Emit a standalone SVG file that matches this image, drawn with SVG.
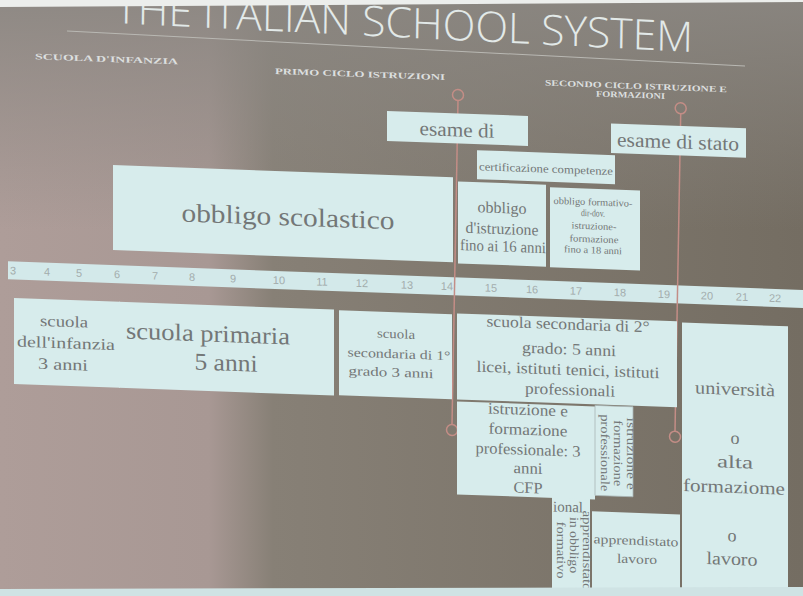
<svg xmlns="http://www.w3.org/2000/svg" width="803" height="596" viewBox="0 0 803 596">
<defs>
<linearGradient id="bg" x1="0" y1="0" x2="803" y2="0" gradientUnits="userSpaceOnUse">
<stop offset="0" stop-color="#ae9d99"/>
<stop offset="0.26" stop-color="#a89894"/>
<stop offset="0.34" stop-color="#878076"/>
<stop offset="1" stop-color="#746d62"/>
</linearGradient>
<linearGradient id="topfade" x1="0" y1="0" x2="0" y2="1">
<stop offset="0" stop-color="#8b8782" stop-opacity="0.9"/>
<stop offset="1" stop-color="#8b8782" stop-opacity="0"/>
</linearGradient>
<clipPath id="clipIefp"><rect x="457" y="385" width="138" height="93"/></clipPath>
<clipPath id="clipCol"><rect x="552" y="470" width="38" height="100"/></clipPath>
<style>
.bx{fill:#d7ecec}
.t{font-family:"Liberation Serif","DejaVu Serif",serif;fill:#737777;text-anchor:middle}
.num{font-family:"Liberation Sans",sans-serif;font-size:11px;fill:#a3adad;text-anchor:middle}
.conn{stroke:#c38d86;stroke-width:1.5;fill:none}
.lab{font-family:"Liberation Serif",serif;font-weight:bold;font-size:8.5px;fill:#dcdfdf}
.title{font-family:"Open Sans","Liberation Sans",sans-serif;font-weight:300;font-size:42px;fill:#e2e9e8}
</style>
</defs>
<rect width="803" height="596" fill="url(#bg)"/>
<rect width="803" height="230" fill="url(#topfade)"/>
<g transform="matrix(1 0.036 0 1 0 0)">
  <g id="header">
    <text class="title" x="115" y="23" textLength="578" lengthAdjust="spacingAndGlyphs" transform="rotate(0.8 404 23)">THE ITALIAN SCHOOL SYSTEM</text>
    <line x1="67" y1="28.6" x2="745" y2="39.2" stroke="#b9b8b3" stroke-width="1"/>
    <text class="lab" x="35" y="58" textLength="143" lengthAdjust="spacingAndGlyphs">SCUOLA D'INFANZIA</text>
    <text class="lab" x="275" y="64" textLength="170" lengthAdjust="spacingAndGlyphs">PRIMO CICLO ISTRUZIONI</text>
    <text class="lab" x="545" y="66" textLength="182" lengthAdjust="spacingAndGlyphs">SECONDO CICLO ISTRUZIONE E</text>
    <text class="lab" x="596" y="75" textLength="69" lengthAdjust="spacingAndGlyphs">FORMAZIONI</text>
  </g>
  <g id="timeline">
    <rect x="8" y="261" width="800" height="18" fill="#d3e9ea"/>
    <text class="num" x="13" y="274">3</text>
    <text class="num" x="47" y="274">4</text>
    <text class="num" x="79" y="274">5</text>
    <text class="num" x="117" y="274">6</text>
    <text class="num" x="155" y="274">7</text>
    <text class="num" x="192" y="274">8</text>
    <text class="num" x="233" y="274">9</text>
    <text class="num" x="279" y="274">10</text>
    <text class="num" x="322" y="274">11</text>
    <text class="num" x="362" y="274">12</text>
    <text class="num" x="407" y="274">13</text>
    <text class="num" x="447" y="274">14</text>
    <text class="num" x="491" y="274">15</text>
    <text class="num" x="532" y="274">16</text>
    <text class="num" x="576" y="274">17</text>
    <text class="num" x="620" y="274">18</text>
    <text class="num" x="664" y="274">19</text>
    <text class="num" x="707" y="274">20</text>
    <text class="num" x="742" y="274">21</text>
    <text class="num" x="775" y="274">22</text>
  </g>
  <g id="connectors">
    <circle class="conn" cx="458" cy="78.5" r="5.5"/>
    <line class="conn" x1="458" y1="84" x2="452" y2="408"/>
    <circle class="conn" cx="452" cy="413.7" r="5.5"/>
    <circle class="conn" cx="680.7" cy="83.8" r="5.5"/>
    <line class="conn" x1="680.7" y1="89.3" x2="675" y2="407"/>
    <circle class="conn" cx="675" cy="412.4" r="5.5"/>
  </g>
  <g id="n-esame-di">
    <rect class="bx" x="387" y="97" width="141" height="30"/>
    <text class="t" x="457" y="120" font-size="20" textLength="75" lengthAdjust="spacingAndGlyphs">esame di</text>
  </g>
  <g id="n-esame-stato">
    <rect class="bx" x="611" y="101.5" width="135" height="29.5"/>
    <text class="t" x="678" y="124" font-size="20" textLength="122" lengthAdjust="spacingAndGlyphs">esame di stato</text>
  </g>
  <g id="n-certificazione">
    <rect class="bx" x="477" y="133" width="138" height="29"/>
    <text class="t" x="546" y="153" font-size="11.5" textLength="134" lengthAdjust="spacingAndGlyphs">certificazione competenze</text>
  </g>
  <g id="n-obbligo-scolastico">
    <rect class="bx" x="113" y="161" width="340" height="85"/>
    <text class="t" x="288" y="215" font-size="26" textLength="213" lengthAdjust="spacingAndGlyphs">obbligo scolastico</text>
  </g>
  <g id="n-obbligo-istruzione">
    <rect class="bx" x="458" y="165" width="88" height="82"/>
    <text class="t" x="502" y="195" font-size="16" textLength="49" lengthAdjust="spacingAndGlyphs">obbligo</text>
    <text class="t" x="502" y="216" font-size="16" textLength="73" lengthAdjust="spacingAndGlyphs">d'istruzione</text>
    <text class="t" x="503" y="233.5" font-size="16" textLength="86" lengthAdjust="spacingAndGlyphs">fino ai 16 anni</text>
  </g>
  <g id="n-obbligo-formativo">
    <rect class="bx" x="550" y="167.5" width="90" height="80"/>
    <text class="t" x="593" y="184" font-size="10" textLength="79" lengthAdjust="spacingAndGlyphs">obbligo formativo-</text>
    <text class="t" x="593" y="195" font-size="10" textLength="24" lengthAdjust="spacingAndGlyphs">dir-dov.</text>
    <text class="t" x="594" y="208" font-size="10" textLength="45" lengthAdjust="spacingAndGlyphs">istruzione-</text>
    <text class="t" x="594" y="221" font-size="10" textLength="49" lengthAdjust="spacingAndGlyphs">formazione</text>
    <text class="t" x="593" y="232" font-size="10" textLength="58" lengthAdjust="spacingAndGlyphs">fino a 18 anni</text>
  </g>
  <g id="n-scuola-infanzia">
    <rect class="bx" x="14" y="297.5" width="106" height="86"/>
    <text class="t" x="64" y="324.5" font-size="16" textLength="48" lengthAdjust="spacingAndGlyphs">scuola</text>
    <text class="t" x="66" y="346" font-size="16" textLength="98" lengthAdjust="spacingAndGlyphs">dell'infanzia</text>
    <text class="t" x="63" y="367.5" font-size="16" textLength="50" lengthAdjust="spacingAndGlyphs">3 anni</text>
  </g>
  <g id="n-scuola-primaria">
    <rect class="bx" x="119" y="297.5" width="215" height="86"/>
    <text class="t" x="208" y="334" font-size="24" textLength="164" lengthAdjust="spacingAndGlyphs">scuola primaria</text>
    <text class="t" x="226" y="362.5" font-size="24" textLength="63" lengthAdjust="spacingAndGlyphs">5 anni</text>
  </g>
  <g id="n-secondaria-1">
    <rect class="bx" x="339" y="298" width="113" height="85"/>
    <text class="t" x="396" y="324" font-size="13" textLength="38" lengthAdjust="spacingAndGlyphs">scuola</text>
    <text class="t" x="399" y="344" font-size="13" textLength="103" lengthAdjust="spacingAndGlyphs">secondaria di 1°</text>
    <text class="t" x="391" y="362.5" font-size="13" textLength="85" lengthAdjust="spacingAndGlyphs">grado 3 anni</text>
  </g>
  <g id="n-secondaria-2">
    <rect class="bx" x="457" y="297" width="220" height="86"/>
    <text class="t" x="568" y="309" font-size="16" textLength="163" lengthAdjust="spacingAndGlyphs">scuola secondaria di 2°</text>
    <text class="t" x="569" y="334" font-size="16" textLength="94" lengthAdjust="spacingAndGlyphs">grado: 5 anni</text>
    <text class="t" x="568" y="354.5" font-size="16" textLength="183" lengthAdjust="spacingAndGlyphs">licei, istituti tenici, istituti</text>
    <text class="t" x="570" y="374.5" font-size="16" textLength="90" lengthAdjust="spacingAndGlyphs">professionali</text>
  </g>
  <g id="n-apprendistato-obbligo">
    <rect class="bx" x="552" y="470" width="38" height="100"/>
    <g clip-path="url(#clipCol)">
      <text class="t" x="553" y="491.5" font-size="15" style="text-anchor:start">ional</text>
    </g>
    <text class="t" transform="translate(583 529.5) rotate(90)" font-size="12.5" textLength="80" lengthAdjust="spacingAndGlyphs">apprendistato</text>
    <text class="t" transform="translate(570 524.5) rotate(90)" font-size="12.5" textLength="56" lengthAdjust="spacingAndGlyphs">in obbligo</text>
    <text class="t" transform="translate(557 530) rotate(90)" font-size="12.5" textLength="57" lengthAdjust="spacingAndGlyphs">formativo</text>
  </g>
  <g id="n-istruzione-formazione">
    <rect class="bx" x="457" y="385" width="138" height="93"/>
    <g clip-path="url(#clipIefp)">
      <text class="t" x="528" y="396" font-size="16" textLength="80" lengthAdjust="spacingAndGlyphs">istruzione e</text>
      <text class="t" x="528" y="416" font-size="16" textLength="79" lengthAdjust="spacingAndGlyphs">formazione</text>
      <text class="t" x="528" y="436" font-size="16" textLength="105" lengthAdjust="spacingAndGlyphs">professionale: 3</text>
      <text class="t" x="528" y="454.5" font-size="16" textLength="29" lengthAdjust="spacingAndGlyphs">anni</text>
      <text class="t" x="528" y="474" font-size="16" textLength="29" lengthAdjust="spacingAndGlyphs">CFP</text>
    </g>
  </g>
  <g id="n-istruzione-vert">
    <rect class="bx" x="595" y="384" width="38" height="90" stroke="#a9b6b6" stroke-width="0.8"/>
    <text class="t" transform="translate(627 431) rotate(90)" font-size="12.5" textLength="72" lengthAdjust="spacingAndGlyphs">istruzione e</text>
    <text class="t" transform="translate(614 431) rotate(90)" font-size="12.5" textLength="66" lengthAdjust="spacingAndGlyphs">formazione</text>
    <text class="t" transform="translate(601 431) rotate(90)" font-size="12.5" textLength="77" lengthAdjust="spacingAndGlyphs">professionale</text>
  </g>
  <g id="n-apprendistato-lavoro">
    <rect class="bx" x="592" y="490" width="88" height="79"/>
    <text class="t" x="636" y="522" font-size="13" textLength="85" lengthAdjust="spacingAndGlyphs">apprendistato</text>
    <text class="t" x="637" y="540.5" font-size="13" textLength="40" lengthAdjust="spacingAndGlyphs">lavoro</text>
  </g>
  <g id="n-universita">
    <rect class="bx" x="682" y="298" width="106" height="268"/>
    <text class="t" x="735" y="368.5" font-size="18" textLength="80" lengthAdjust="spacingAndGlyphs">università</text>
    <text class="t" x="735" y="417.5" font-size="18">o</text>
    <text class="t" x="735" y="441.5" font-size="18" textLength="36" lengthAdjust="spacingAndGlyphs">alta</text>
    <text class="t" x="734" y="466.5" font-size="18" textLength="102" lengthAdjust="spacingAndGlyphs">formaziome</text>
    <text class="t" x="732" y="515" font-size="18">o</text>
    <text class="t" x="732" y="538.5" font-size="18" textLength="51" lengthAdjust="spacingAndGlyphs">lavoro</text>
  </g>
</g>
<polygon points="0,0 803,0 803,2 0,7" fill="#eceeec"/>
<polygon points="0,589 803,587 803,596 0,596" fill="#cfe3e4"/>
</svg>
